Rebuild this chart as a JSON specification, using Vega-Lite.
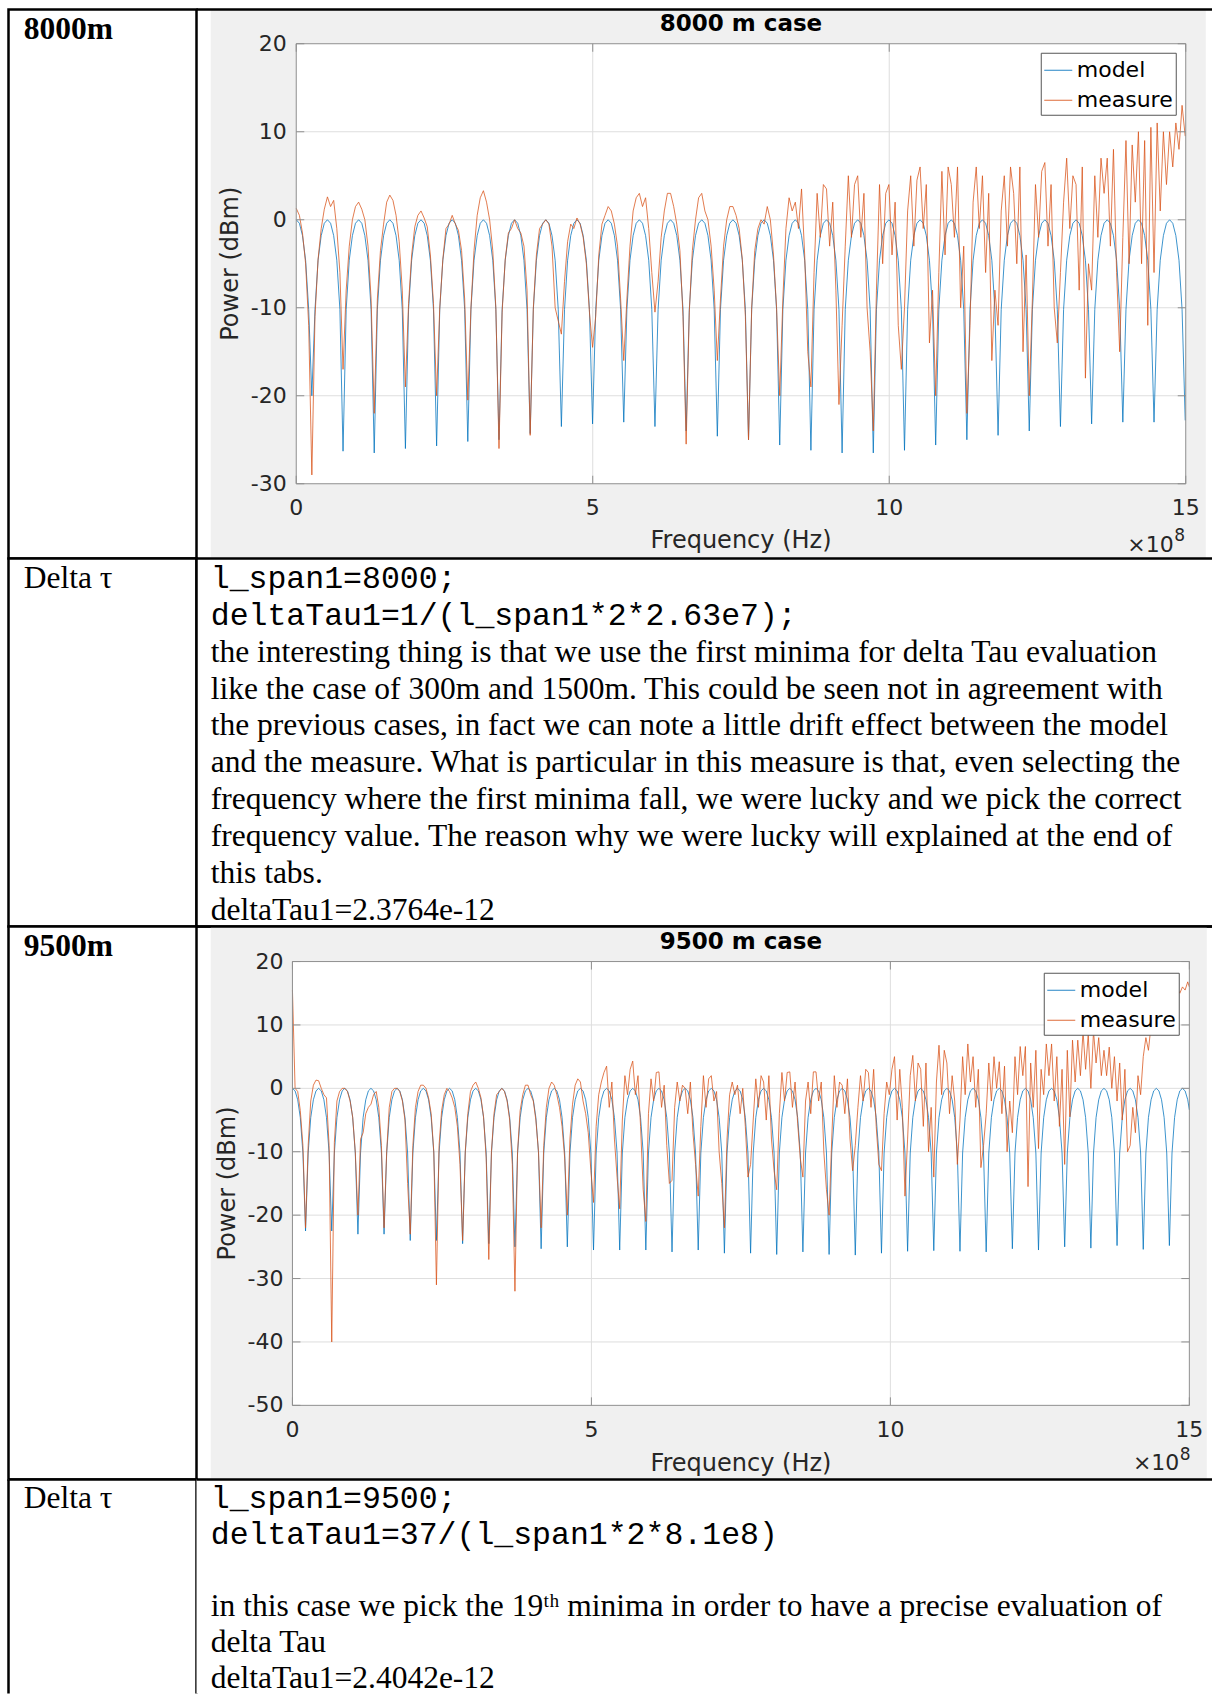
{
  "$schema": "https://vega.github.io/schema/vega-lite/v6.json",
  "background": "white",
  "padding": {"left": 6.5, "top": 7.5, "right": 0, "bottom": 0},
  "columns": 2,
  "spacing": 0,
  "bounds": "flush",
  "resolve": {"scale": {"color": "independent"}, "legend": {"color": "independent"}},
  "config": {
    "view": {"stroke": null},
    "axis": {"disable": true},
    "concat": {"spacing": 0}
  },
  "datasets": {
    "xticks": [{"v":0},{"v":5},{"v":10},{"v":15}],
    "yticks8000": [{"v":20},{"v":10},{"v":0},{"v":-10},{"v":-20},{"v":-30}],
    "yticks9500": [{"v":20},{"v":10},{"v":0},{"v":-10},{"v":-20},{"v":-30},{"v":-40},{"v":-50}],
    "run8000": [
      {"f":0,"model":0,"measure":1.3},{"f":0.053,"model":-0.4,"measure":0.5},{"f":0.105,"model":-1.8,"measure":-1.5},{"f":0.158,"model":-4.6,"measure":-5},{"f":0.21,"model":-10.2,"measure":-12},{"f":0.263,"model":-20,"measure":-29},{"f":0.316,"model":-10.2,"measure":-11},{"f":0.368,"model":-4.6,"measure":-4.5},{"f":0.421,"model":-1.8,"measure":-1},{"f":0.473,"model":-0.4,"measure":1.2},
      {"f":0.526,"model":0,"measure":2.6},{"f":0.579,"model":-0.4,"measure":1.5},{"f":0.631,"model":-1.8,"measure":2.2},{"f":0.684,"model":-4.6,"measure":-1},{"f":0.736,"model":-10.2,"measure":-6},{"f":0.789,"model":-26.3,"measure":-17},{"f":0.842,"model":-10.2,"measure":-8},{"f":0.894,"model":-4.6,"measure":-3},{"f":0.947,"model":-1.8,"measure":0},{"f":0.999,"model":-0.4,"measure":1.5},
      {"f":1.052,"model":0,"measure":2},{"f":1.105,"model":-0.4,"measure":1.2},{"f":1.157,"model":-1.8,"measure":0},{"f":1.21,"model":-4.6,"measure":-3},{"f":1.262,"model":-10.2,"measure":-9},{"f":1.315,"model":-26.5,"measure":-22},{"f":1.368,"model":-10.2,"measure":-9},{"f":1.42,"model":-4.6,"measure":-3.5},{"f":1.473,"model":-1.8,"measure":-0.5},{"f":1.525,"model":-0.4,"measure":2},
      {"f":1.578,"model":0,"measure":2.8},{"f":1.631,"model":-0.4,"measure":2.2},{"f":1.683,"model":-1.8,"measure":0.5},{"f":1.736,"model":-4.6,"measure":-2.5},{"f":1.788,"model":-10.2,"measure":-8},{"f":1.841,"model":-26,"measure":-19},{"f":1.894,"model":-10.2,"measure":-9.5},{"f":1.946,"model":-4.6,"measure":-4},{"f":1.999,"model":-1.8,"measure":-0.8},{"f":2.051,"model":-0.4,"measure":0.5},
      {"f":2.104,"model":0,"measure":1},{"f":2.157,"model":-0.4,"measure":0.2},{"f":2.209,"model":-1.8,"measure":-0.8},{"f":2.262,"model":-4.6,"measure":-4},{"f":2.314,"model":-10.2,"measure":-9.5},{"f":2.367,"model":-25.7,"measure":-20},{"f":2.42,"model":-10.2,"measure":-10},{"f":2.472,"model":-4.6,"measure":-4.5},{"f":2.525,"model":-1.8,"measure":-1},{"f":2.577,"model":-0.4,"measure":-0.5},
      {"f":2.63,"model":0,"measure":0.5},{"f":2.683,"model":-0.4,"measure":-0.5},{"f":2.735,"model":-1.8,"measure":-1.2},{"f":2.788,"model":-4.6,"measure":-3.5},{"f":2.84,"model":-10.2,"measure":-9},{"f":2.893,"model":-25.2,"measure":-20.5},{"f":2.946,"model":-10.2,"measure":-10},{"f":2.998,"model":-4.6,"measure":-3.5},{"f":3.051,"model":-1.8,"measure":0.5},{"f":3.103,"model":-0.4,"measure":2.5},
      {"f":3.156,"model":0,"measure":3.3},{"f":3.209,"model":-0.4,"measure":2},{"f":3.261,"model":-1.8,"measure":0},{"f":3.314,"model":-4.6,"measure":-3.5},{"f":3.366,"model":-10.2,"measure":-10},{"f":3.419,"model":-25,"measure":-26},{"f":3.472,"model":-10.2,"measure":-10.5},{"f":3.524,"model":-4.6,"measure":-4.5},{"f":3.577,"model":-1.8,"measure":-1.5},{"f":3.629,"model":-0.4,"measure":-1},
      {"f":3.682,"model":0,"measure":0},{"f":3.735,"model":-0.4,"measure":-1},{"f":3.787,"model":-1.8,"measure":-1.5},{"f":3.84,"model":-4.6,"measure":-3},{"f":3.892,"model":-10.2,"measure":-8},{"f":3.945,"model":-24.3,"measure":-24.5},{"f":3.998,"model":-10.2,"measure":-10},{"f":4.05,"model":-4.6,"measure":-4},{"f":4.103,"model":-1.8,"measure":-1},{"f":4.155,"model":-0.4,"measure":-0.5},
      {"f":4.208,"model":0,"measure":0},{"f":4.261,"model":-0.4,"measure":-0.5},{"f":4.313,"model":-1.8,"measure":-3},{"f":4.366,"model":-4.6,"measure":-10},{"f":4.418,"model":-10.2,"measure":-11.5},{"f":4.471,"model":-23.5,"measure":-13},{"f":4.524,"model":-10.2,"measure":-7},{"f":4.576,"model":-4.6,"measure":-2.5},{"f":4.629,"model":-1.8,"measure":-0.5},{"f":4.681,"model":-0.4,"measure":-1},
      {"f":4.734,"model":0,"measure":0.2},{"f":4.787,"model":-0.4,"measure":-0.5},{"f":4.839,"model":-1.8,"measure":-2},{"f":4.892,"model":-4.6,"measure":-5},{"f":4.944,"model":-10.2,"measure":-10.5},{"f":4.997,"model":-23.2,"measure":-14.5},{"f":5.05,"model":-10.2,"measure":-11},{"f":5.102,"model":-4.6,"measure":-4},{"f":5.155,"model":-1.8,"measure":-0.5},{"f":5.207,"model":-0.4,"measure":0.5},
      {"f":5.26,"model":0,"measure":1.5},{"f":5.313,"model":-0.4,"measure":1},{"f":5.365,"model":-1.8,"measure":-0.5},{"f":5.418,"model":-4.6,"measure":-3},{"f":5.47,"model":-10.2,"measure":-9},{"f":5.523,"model":-23,"measure":-16},{"f":5.576,"model":-10.2,"measure":-9},{"f":5.628,"model":-4.6,"measure":-3},{"f":5.681,"model":-1.8,"measure":1},{"f":5.733,"model":-0.4,"measure":2.5},
      {"f":5.786,"model":0,"measure":3},{"f":5.839,"model":-0.4,"measure":1.5},{"f":5.891,"model":-1.8,"measure":2.5},{"f":5.944,"model":-4.6,"measure":-1},{"f":5.996,"model":-10.2,"measure":-6},{"f":6.049,"model":-23.5,"measure":-10.5},{"f":6.102,"model":-10.2,"measure":-7},{"f":6.154,"model":-4.6,"measure":-2},{"f":6.207,"model":-1.8,"measure":1},{"f":6.259,"model":-0.4,"measure":3},
      {"f":6.312,"model":0,"measure":3},{"f":6.365,"model":-0.4,"measure":1.5},{"f":6.417,"model":-1.8,"measure":-0.5},{"f":6.47,"model":-4.6,"measure":-3.5},{"f":6.522,"model":-10.2,"measure":-11},{"f":6.575,"model":-24,"measure":-25.5},{"f":6.628,"model":-10.2,"measure":-10.5},{"f":6.68,"model":-4.6,"measure":-3.5},{"f":6.733,"model":-1.8,"measure":0},{"f":6.785,"model":-0.4,"measure":2.5},
      {"f":6.838,"model":0,"measure":3},{"f":6.891,"model":-0.4,"measure":1},{"f":6.943,"model":-1.8,"measure":0},{"f":6.996,"model":-4.6,"measure":-3},{"f":7.048,"model":-10.2,"measure":-8},{"f":7.101,"model":-24.6,"measure":-16},{"f":7.154,"model":-10.2,"measure":-9},{"f":7.206,"model":-4.6,"measure":-3},{"f":7.259,"model":-1.8,"measure":0},{"f":7.311,"model":-0.4,"measure":1.5},
      {"f":7.364,"model":0,"measure":1.5},{"f":7.417,"model":-0.4,"measure":0.5},{"f":7.469,"model":-1.8,"measure":-1},{"f":7.522,"model":-4.6,"measure":-4.5},{"f":7.574,"model":-10.2,"measure":-11},{"f":7.627,"model":-25,"measure":-25},{"f":7.68,"model":-10.2,"measure":-10},{"f":7.732,"model":-4.6,"measure":-3.5},{"f":7.785,"model":-1.8,"measure":-1},{"f":7.837,"model":-0.4,"measure":0},
      {"f":7.89,"model":0,"measure":-0.5},{"f":7.943,"model":-0.4,"measure":1.5},{"f":7.995,"model":-1.8,"measure":0},{"f":8.048,"model":-4.6,"measure":-4},{"f":8.1,"model":-10.2,"measure":-10},{"f":8.153,"model":-25.6,"measure":-20},{"f":8.206,"model":-10.2,"measure":-9},{"f":8.258,"model":-4.6,"measure":-1},{"f":8.311,"model":-1.8,"measure":2.5},{"f":8.363,"model":-0.4,"measure":1},
      {"f":8.416,"model":0,"measure":2},{"f":8.469,"model":-0.4,"measure":-1},{"f":8.521,"model":-1.8,"measure":3.5},{"f":8.574,"model":-4.6,"measure":-4},{"f":8.626,"model":-10.2,"measure":-15},{"f":8.679,"model":-26.2,"measure":-19},{"f":8.732,"model":-10.2,"measure":-6},{"f":8.784,"model":-4.6,"measure":3},{"f":8.837,"model":-1.8,"measure":-2},{"f":8.889,"model":-0.4,"measure":4},
      {"f":8.942,"model":0,"measure":3.5},{"f":8.995,"model":-0.4,"measure":-3},{"f":9.047,"model":-1.8,"measure":2},{"f":9.1,"model":-4.6,"measure":-8},{"f":9.152,"model":-10.2,"measure":-21},{"f":9.205,"model":-26.5,"measure":-12},{"f":9.258,"model":-10.2,"measure":-3},{"f":9.31,"model":-4.6,"measure":5},{"f":9.363,"model":-1.8,"measure":-2},{"f":9.415,"model":-0.4,"measure":4},
      {"f":9.468,"model":0,"measure":5},{"f":9.521,"model":-0.4,"measure":-2},{"f":9.573,"model":-1.8,"measure":3},{"f":9.626,"model":-4.6,"measure":-10},{"f":9.678,"model":-10.2,"measure":-15},{"f":9.731,"model":-26.5,"measure":-24},{"f":9.784,"model":-10.2,"measure":-8},{"f":9.836,"model":-4.6,"measure":4},{"f":9.889,"model":-1.8,"measure":-5},{"f":9.941,"model":-0.4,"measure":3},
      {"f":9.994,"model":0,"measure":4},{"f":10.047,"model":-0.4,"measure":-4},{"f":10.099,"model":-1.8,"measure":2},{"f":10.152,"model":-4.6,"measure":-12},{"f":10.204,"model":-10.2,"measure":-17},{"f":10.257,"model":-26.2,"measure":-10},{"f":10.31,"model":-10.2,"measure":1},{"f":10.362,"model":-4.6,"measure":5},{"f":10.415,"model":-1.8,"measure":-3},{"f":10.467,"model":-0.4,"measure":4.5},
      {"f":10.52,"model":0,"measure":6},{"f":10.573,"model":-0.4,"measure":-1},{"f":10.625,"model":-1.8,"measure":4},{"f":10.678,"model":-4.6,"measure":-14},{"f":10.73,"model":-10.2,"measure":-8},{"f":10.783,"model":-25.6,"measure":-20},{"f":10.836,"model":-10.2,"measure":-6},{"f":10.888,"model":-4.6,"measure":5.5},{"f":10.941,"model":-1.8,"measure":-4},{"f":10.993,"model":-0.4,"measure":6},
      {"f":11.046,"model":0,"measure":4},{"f":11.099,"model":-0.4,"measure":-2},{"f":11.151,"model":-1.8,"measure":6},{"f":11.204,"model":-4.6,"measure":-10},{"f":11.256,"model":-10.2,"measure":-3},{"f":11.309,"model":-25,"measure":-22},{"f":11.362,"model":-10.2,"measure":-12},{"f":11.414,"model":-4.6,"measure":2},{"f":11.467,"model":-1.8,"measure":6},{"f":11.519,"model":-0.4,"measure":-1},
      {"f":11.572,"model":0,"measure":5},{"f":11.625,"model":-0.4,"measure":-6},{"f":11.677,"model":-1.8,"measure":3},{"f":11.73,"model":-4.6,"measure":-16},{"f":11.782,"model":-10.2,"measure":-8},{"f":11.835,"model":-24.5,"measure":-12},{"f":11.888,"model":-10.2,"measure":1},{"f":11.94,"model":-4.6,"measure":5},{"f":11.993,"model":-1.8,"measure":-3},{"f":12.045,"model":-0.4,"measure":6},
      {"f":12.098,"model":0,"measure":3},{"f":12.151,"model":-0.4,"measure":-5},{"f":12.203,"model":-1.8,"measure":6},{"f":12.256,"model":-4.6,"measure":-15},{"f":12.308,"model":-10.2,"measure":-4},{"f":12.361,"model":-24,"measure":-20},{"f":12.414,"model":-10.2,"measure":-9},{"f":12.466,"model":-4.6,"measure":4},{"f":12.519,"model":-1.8,"measure":-2},{"f":12.571,"model":-0.4,"measure":5.5},
      {"f":12.624,"model":0,"measure":6.5},{"f":12.677,"model":-0.4,"measure":-3},{"f":12.729,"model":-1.8,"measure":4},{"f":12.782,"model":-4.6,"measure":-10},{"f":12.834,"model":-10.2,"measure":-14},{"f":12.887,"model":-23.5,"measure":-6},{"f":12.94,"model":-10.2,"measure":2},{"f":12.992,"model":-4.6,"measure":7},{"f":13.045,"model":-1.8,"measure":-1},{"f":13.097,"model":-0.4,"measure":5},
      {"f":13.15,"model":0,"measure":4},{"f":13.203,"model":-0.4,"measure":-8},{"f":13.255,"model":-1.8,"measure":6},{"f":13.308,"model":-4.6,"measure":-18},{"f":13.36,"model":-10.2,"measure":-5},{"f":13.413,"model":-23.2,"measure":-8},{"f":13.466,"model":-10.2,"measure":5},{"f":13.518,"model":-4.6,"measure":-2},{"f":13.571,"model":-1.8,"measure":7},{"f":13.623,"model":-0.4,"measure":3},
      {"f":13.676,"model":0,"measure":7},{"f":13.729,"model":-0.4,"measure":-3},{"f":13.781,"model":-1.8,"measure":8},{"f":13.834,"model":-4.6,"measure":-6},{"f":13.886,"model":-10.2,"measure":-15},{"f":13.939,"model":-23,"measure":-2},{"f":13.992,"model":-10.2,"measure":9},{"f":14.044,"model":-4.6,"measure":-5},{"f":14.097,"model":-1.8,"measure":8.5},{"f":14.149,"model":-0.4,"measure":2},
      {"f":14.202,"model":0,"measure":10},{"f":14.255,"model":-0.4,"measure":-5},{"f":14.307,"model":-1.8,"measure":9},{"f":14.36,"model":-4.6,"measure":-12},{"f":14.412,"model":-10.2,"measure":10.5},{"f":14.465,"model":-23,"measure":-6},{"f":14.518,"model":-10.2,"measure":11},{"f":14.57,"model":-4.6,"measure":1},{"f":14.623,"model":-1.8,"measure":10},{"f":14.675,"model":-0.4,"measure":4},
      {"f":14.728,"model":0,"measure":10},{"f":14.781,"model":-0.4,"measure":6},{"f":14.833,"model":-1.8,"measure":11},{"f":14.886,"model":-4.6,"measure":8},{"f":14.938,"model":-10.2,"measure":13},{"f":14.991,"model":-22.8,"measure":9.5}
    ],
    "run9500": [
      {"f":0,"model":0,"measure":15.5},{"f":0.044,"model":-0.4,"measure":0},{"f":0.088,"model":-1.8,"measure":-0.5},{"f":0.131,"model":-4.6,"measure":-3.5},{"f":0.175,"model":-10.2,"measure":-9},{"f":0.219,"model":-22.5,"measure":-22},{"f":0.263,"model":-10.2,"measure":-9},{"f":0.306,"model":-4.6,"measure":-2},{"f":0.35,"model":-1.8,"measure":0.5},{"f":0.394,"model":-0.4,"measure":1.3},
      {"f":0.438,"model":0,"measure":1.2},{"f":0.482,"model":-0.4,"measure":0},{"f":0.526,"model":-1.8,"measure":-1},{"f":0.569,"model":-4.6,"measure":-1.5},{"f":0.613,"model":-10.2,"measure":-9},{"f":0.657,"model":-22.5,"measure":-40},{"f":0.701,"model":-10.2,"measure":-8.5},{"f":0.744,"model":-4.6,"measure":-2},{"f":0.788,"model":-1.8,"measure":-0.5},{"f":0.832,"model":-0.4,"measure":0},
      {"f":0.876,"model":0,"measure":0},{"f":0.92,"model":-0.4,"measure":-0.5},{"f":0.964,"model":-1.8,"measure":-2},{"f":1.007,"model":-4.6,"measure":-4.5},{"f":1.051,"model":-10.2,"measure":-10},{"f":1.095,"model":-23,"measure":-20},{"f":1.139,"model":-10.2,"measure":-8},{"f":1.182,"model":-4.6,"measure":-7},{"f":1.226,"model":-1.8,"measure":-4},{"f":1.27,"model":-0.4,"measure":-3},
      {"f":1.313,"model":0,"measure":-2.5},{"f":1.357,"model":-0.4,"measure":-1},{"f":1.401,"model":-1.8,"measure":-0.5},{"f":1.444,"model":-4.6,"measure":-3},{"f":1.488,"model":-10.2,"measure":-9},{"f":1.532,"model":-23,"measure":-22},{"f":1.576,"model":-10.2,"measure":-10},{"f":1.619,"model":-4.6,"measure":-3},{"f":1.663,"model":-1.8,"measure":-0.5},{"f":1.707,"model":-0.4,"measure":0},
      {"f":1.751,"model":0,"measure":0},{"f":1.795,"model":-0.4,"measure":-0.5},{"f":1.839,"model":-1.8,"measure":-2},{"f":1.882,"model":-4.6,"measure":-5},{"f":1.926,"model":-10.2,"measure":-15},{"f":1.97,"model":-24,"measure":-23},{"f":2.014,"model":-10.2,"measure":-9},{"f":2.057,"model":-4.6,"measure":-3},{"f":2.101,"model":-1.8,"measure":-0.5},{"f":2.145,"model":-0.4,"measure":0.5},
      {"f":2.189,"model":0,"measure":0.5},{"f":2.233,"model":-0.4,"measure":0},{"f":2.277,"model":-1.8,"measure":-1.5},{"f":2.32,"model":-4.6,"measure":-4},{"f":2.364,"model":-10.2,"measure":-10},{"f":2.408,"model":-24,"measure":-31},{"f":2.452,"model":-10.2,"measure":-9},{"f":2.495,"model":-4.6,"measure":-3.5},{"f":2.539,"model":-1.8,"measure":-1},{"f":2.583,"model":-0.4,"measure":0},
      {"f":2.627,"model":0,"measure":-0.5},{"f":2.671,"model":-0.4,"measure":-1.5},{"f":2.715,"model":-1.8,"measure":-3},{"f":2.758,"model":-4.6,"measure":-6},{"f":2.802,"model":-10.2,"measure":-12},{"f":2.846,"model":-24.5,"measure":-24},{"f":2.89,"model":-10.2,"measure":-10},{"f":2.933,"model":-4.6,"measure":-4},{"f":2.977,"model":-1.8,"measure":-0.5},{"f":3.021,"model":-0.4,"measure":0.5},
      {"f":3.065,"model":0,"measure":1},{"f":3.109,"model":-0.4,"measure":0},{"f":3.153,"model":-1.8,"measure":-1.5},{"f":3.196,"model":-4.6,"measure":-4.5},{"f":3.24,"model":-10.2,"measure":-11},{"f":3.284,"model":-24.5,"measure":-27},{"f":3.328,"model":-10.2,"measure":-10},{"f":3.371,"model":-4.6,"measure":-4},{"f":3.415,"model":-1.8,"measure":-1},{"f":3.459,"model":-0.4,"measure":-0.5},
      {"f":3.502,"model":0,"measure":0},{"f":3.546,"model":-0.4,"measure":-0.5},{"f":3.59,"model":-1.8,"measure":-2},{"f":3.633,"model":-4.6,"measure":-5},{"f":3.677,"model":-10.2,"measure":-12},{"f":3.721,"model":-25,"measure":-32},{"f":3.765,"model":-10.2,"measure":-10},{"f":3.808,"model":-4.6,"measure":-3.5},{"f":3.852,"model":-1.8,"measure":-1},{"f":3.896,"model":-0.4,"measure":0.5},
      {"f":3.94,"model":0,"measure":0.5},{"f":3.984,"model":-0.4,"measure":-1},{"f":4.028,"model":-1.8,"measure":-2},{"f":4.071,"model":-4.6,"measure":-5},{"f":4.115,"model":-10.2,"measure":-10},{"f":4.159,"model":-25.3,"measure":-22},{"f":4.203,"model":-10.2,"measure":-9},{"f":4.246,"model":-4.6,"measure":-3},{"f":4.29,"model":-1.8,"measure":0},{"f":4.334,"model":-0.4,"measure":1},
      {"f":4.378,"model":0,"measure":0.5},{"f":4.422,"model":-0.4,"measure":-1},{"f":4.466,"model":-1.8,"measure":-3},{"f":4.509,"model":-4.6,"measure":-6},{"f":4.553,"model":-10.2,"measure":-11},{"f":4.597,"model":-25,"measure":-20},{"f":4.641,"model":-10.2,"measure":-8},{"f":4.684,"model":-4.6,"measure":-2.5},{"f":4.728,"model":-1.8,"measure":0.5},{"f":4.772,"model":-0.4,"measure":1.5},
      {"f":4.816,"model":0,"measure":1},{"f":4.86,"model":-0.4,"measure":-2},{"f":4.904,"model":-1.8,"measure":-4},{"f":4.947,"model":-4.6,"measure":-7},{"f":4.991,"model":-10.2,"measure":-13},{"f":5.035,"model":-25.5,"measure":-18},{"f":5.079,"model":-10.2,"measure":-6},{"f":5.122,"model":-4.6,"measure":-1},{"f":5.166,"model":-1.8,"measure":1},{"f":5.21,"model":-0.4,"measure":2.5},
      {"f":5.254,"model":0,"measure":3.5},{"f":5.298,"model":-0.4,"measure":-3},{"f":5.342,"model":-1.8,"measure":1},{"f":5.385,"model":-4.6,"measure":-8},{"f":5.429,"model":-10.2,"measure":-14},{"f":5.473,"model":-25.5,"measure":-19},{"f":5.517,"model":-10.2,"measure":-5},{"f":5.56,"model":-4.6,"measure":2},{"f":5.604,"model":-1.8,"measure":-1},{"f":5.648,"model":-0.4,"measure":3},
      {"f":5.691,"model":0,"measure":4.3},{"f":5.735,"model":-0.4,"measure":-1},{"f":5.779,"model":-1.8,"measure":2},{"f":5.822,"model":-4.6,"measure":-6},{"f":5.866,"model":-10.2,"measure":-16},{"f":5.91,"model":-25.5,"measure":-21},{"f":5.954,"model":-10.2,"measure":-4},{"f":5.997,"model":-4.6,"measure":1.5},{"f":6.041,"model":-1.8,"measure":-2},{"f":6.085,"model":-0.4,"measure":2.5},
      {"f":6.129,"model":0,"measure":2.6},{"f":6.173,"model":-0.4,"measure":-3},{"f":6.217,"model":-1.8,"measure":0.5},{"f":6.26,"model":-4.6,"measure":-9},{"f":6.304,"model":-10.2,"measure":-15},{"f":6.348,"model":-25.8,"measure":-14.5},{"f":6.392,"model":-10.2,"measure":-3},{"f":6.435,"model":-4.6,"measure":1},{"f":6.479,"model":-1.8,"measure":-2},{"f":6.523,"model":-0.4,"measure":0.5},
      {"f":6.567,"model":0,"measure":0},{"f":6.611,"model":-0.4,"measure":-4},{"f":6.655,"model":-1.8,"measure":1},{"f":6.698,"model":-4.6,"measure":-7},{"f":6.742,"model":-10.2,"measure":-12},{"f":6.786,"model":-25.5,"measure":-17},{"f":6.83,"model":-10.2,"measure":-6},{"f":6.873,"model":-4.6,"measure":2},{"f":6.917,"model":-1.8,"measure":-3},{"f":6.961,"model":-0.4,"measure":1.5},
      {"f":7.005,"model":0,"measure":2},{"f":7.049,"model":-0.4,"measure":-2},{"f":7.093,"model":-1.8,"measure":-0.5},{"f":7.136,"model":-4.6,"measure":-10},{"f":7.18,"model":-10.2,"measure":-15},{"f":7.224,"model":-26,"measure":-22},{"f":7.268,"model":-10.2,"measure":-8},{"f":7.311,"model":-4.6,"measure":-1},{"f":7.355,"model":-1.8,"measure":1},{"f":7.399,"model":-0.4,"measure":-1},
      {"f":7.443,"model":0,"measure":0.5},{"f":7.487,"model":-0.4,"measure":-4},{"f":7.531,"model":-1.8,"measure":0},{"f":7.574,"model":-4.6,"measure":-6},{"f":7.618,"model":-10.2,"measure":-14},{"f":7.662,"model":-26,"measure":-12},{"f":7.706,"model":-10.2,"measure":-5},{"f":7.749,"model":-4.6,"measure":1.5},{"f":7.793,"model":-1.8,"measure":-3},{"f":7.837,"model":-0.4,"measure":2},
      {"f":7.88,"model":0,"measure":1},{"f":7.924,"model":-0.4,"measure":-5},{"f":7.968,"model":-1.8,"measure":2},{"f":8.011,"model":-4.6,"measure":-8},{"f":8.055,"model":-10.2,"measure":-13},{"f":8.099,"model":-26.2,"measure":-16},{"f":8.143,"model":-10.2,"measure":-4},{"f":8.186,"model":-4.6,"measure":2.5},{"f":8.23,"model":-1.8,"measure":-2},{"f":8.274,"model":-0.4,"measure":2.5},
      {"f":8.318,"model":0,"measure":2.6},{"f":8.362,"model":-0.4,"measure":-3},{"f":8.406,"model":-1.8,"measure":1},{"f":8.449,"model":-4.6,"measure":-5.5},{"f":8.493,"model":-10.2,"measure":-11},{"f":8.537,"model":-25.8,"measure":-14},{"f":8.581,"model":-10.2,"measure":-2},{"f":8.624,"model":-4.6,"measure":1},{"f":8.668,"model":-1.8,"measure":-4},{"f":8.712,"model":-0.4,"measure":2.6},
      {"f":8.756,"model":0,"measure":2.6},{"f":8.8,"model":-0.4,"measure":-2},{"f":8.844,"model":-1.8,"measure":1},{"f":8.887,"model":-4.6,"measure":-10},{"f":8.931,"model":-10.2,"measure":-16},{"f":8.975,"model":-26.2,"measure":-20},{"f":9.019,"model":-10.2,"measure":-8},{"f":9.062,"model":-4.6,"measure":2},{"f":9.106,"model":-1.8,"measure":-3},{"f":9.15,"model":-0.4,"measure":1},
      {"f":9.194,"model":0,"measure":0.5},{"f":9.238,"model":-0.4,"measure":-4},{"f":9.282,"model":-1.8,"measure":1.5},{"f":9.325,"model":-4.6,"measure":-8},{"f":9.369,"model":-10.2,"measure":-13},{"f":9.413,"model":-26.3,"measure":-9},{"f":9.457,"model":-10.2,"measure":-3},{"f":9.5,"model":-4.6,"measure":2},{"f":9.544,"model":-1.8,"measure":-2},{"f":9.588,"model":-0.4,"measure":3},
      {"f":9.632,"model":0,"measure":2.5},{"f":9.676,"model":-0.4,"measure":-3},{"f":9.72,"model":-1.8,"measure":3},{"f":9.763,"model":-4.6,"measure":-6},{"f":9.807,"model":-10.2,"measure":-12},{"f":9.851,"model":-26,"measure":-13},{"f":9.895,"model":-10.2,"measure":-4},{"f":9.938,"model":-4.6,"measure":1},{"f":9.982,"model":-1.8,"measure":-1},{"f":10.026,"model":-0.4,"measure":3},
      {"f":10.069,"model":0,"measure":5},{"f":10.113,"model":-0.4,"measure":-5},{"f":10.157,"model":-1.8,"measure":3},{"f":10.2,"model":-4.6,"measure":-3},{"f":10.244,"model":-10.2,"measure":-17},{"f":10.288,"model":-25.7,"measure":-8},{"f":10.332,"model":-10.2,"measure":2},{"f":10.375,"model":-4.6,"measure":5.2},{"f":10.419,"model":-1.8,"measure":-2},{"f":10.463,"model":-0.4,"measure":4},
      {"f":10.507,"model":0,"measure":3},{"f":10.551,"model":-0.4,"measure":-6},{"f":10.595,"model":-1.8,"measure":4},{"f":10.638,"model":-4.6,"measure":-10},{"f":10.682,"model":-10.2,"measure":-3},{"f":10.726,"model":-25.6,"measure":-14},{"f":10.77,"model":-10.2,"measure":1},{"f":10.813,"model":-4.6,"measure":6.8},{"f":10.857,"model":-1.8,"measure":-1},{"f":10.901,"model":-0.4,"measure":6},
      {"f":10.945,"model":0,"measure":4},{"f":10.989,"model":-0.4,"measure":-4},{"f":11.033,"model":-1.8,"measure":2},{"f":11.076,"model":-4.6,"measure":-2},{"f":11.12,"model":-10.2,"measure":-12},{"f":11.164,"model":-25.7,"measure":-5},{"f":11.208,"model":-10.2,"measure":5},{"f":11.251,"model":-4.6,"measure":-1},{"f":11.295,"model":-1.8,"measure":7},{"f":11.339,"model":-0.4,"measure":1},
      {"f":11.383,"model":0,"measure":5},{"f":11.427,"model":-0.4,"measure":-3},{"f":11.471,"model":-1.8,"measure":3},{"f":11.514,"model":-4.6,"measure":-12.5},{"f":11.558,"model":-10.2,"measure":-9},{"f":11.602,"model":-25.8,"measure":-4},{"f":11.646,"model":-10.2,"measure":4},{"f":11.689,"model":-4.6,"measure":-2},{"f":11.733,"model":-1.8,"measure":5},{"f":11.777,"model":-0.4,"measure":0},
      {"f":11.821,"model":0,"measure":4.2},{"f":11.865,"model":-0.4,"measure":-4},{"f":11.909,"model":-1.8,"measure":3.5},{"f":11.952,"model":-4.6,"measure":-10},{"f":11.996,"model":-10.2,"measure":-2},{"f":12.04,"model":-25.3,"measure":-7},{"f":12.084,"model":-10.2,"measure":5},{"f":12.127,"model":-4.6,"measure":-1},{"f":12.171,"model":-1.8,"measure":6.6},{"f":12.215,"model":-0.4,"measure":2},
      {"f":12.258,"model":0,"measure":6.6},{"f":12.302,"model":-0.4,"measure":-15.5},{"f":12.346,"model":-1.8,"measure":4},{"f":12.389,"model":-4.6,"measure":-3},{"f":12.433,"model":-10.2,"measure":6},{"f":12.477,"model":-25.5,"measure":-9.5},{"f":12.521,"model":-10.2,"measure":3},{"f":12.564,"model":-4.6,"measure":-1},{"f":12.608,"model":-1.8,"measure":7},{"f":12.652,"model":-0.4,"measure":2},
      {"f":12.696,"model":0,"measure":7},{"f":12.74,"model":-0.4,"measure":-2},{"f":12.784,"model":-1.8,"measure":5},{"f":12.827,"model":-4.6,"measure":-6},{"f":12.871,"model":-10.2,"measure":3},{"f":12.915,"model":-25,"measure":-12},{"f":12.959,"model":-10.2,"measure":6},{"f":13.002,"model":-4.6,"measure":-4.5},{"f":13.046,"model":-1.8,"measure":7.6},{"f":13.09,"model":-0.4,"measure":1},
      {"f":13.134,"model":0,"measure":7.6},{"f":13.178,"model":-0.4,"measure":2},{"f":13.222,"model":-1.8,"measure":9},{"f":13.265,"model":-4.6,"measure":3},{"f":13.309,"model":-10.2,"measure":8.5},{"f":13.353,"model":-25.2,"measure":0},{"f":13.397,"model":-10.2,"measure":9},{"f":13.44,"model":-4.6,"measure":4},{"f":13.484,"model":-1.8,"measure":8},{"f":13.528,"model":-0.4,"measure":2},
      {"f":13.572,"model":0,"measure":6},{"f":13.616,"model":-0.4,"measure":2},{"f":13.66,"model":-1.8,"measure":6.5},{"f":13.703,"model":-4.6,"measure":0},{"f":13.747,"model":-10.2,"measure":5},{"f":13.791,"model":-24.8,"measure":-2},{"f":13.835,"model":-10.2,"measure":4},{"f":13.878,"model":-4.6,"measure":-5},{"f":13.922,"model":-1.8,"measure":3},{"f":13.966,"model":-0.4,"measure":-10},
      {"f":14.01,"model":0,"measure":-9},{"f":14.054,"model":-0.4,"measure":-3},{"f":14.098,"model":-1.8,"measure":-7},{"f":14.141,"model":-4.6,"measure":2},{"f":14.185,"model":-10.2,"measure":-1},{"f":14.229,"model":-25.4,"measure":5},{"f":14.273,"model":-10.2,"measure":8},{"f":14.316,"model":-4.6,"measure":6},{"f":14.36,"model":-1.8,"measure":10},{"f":14.404,"model":-0.4,"measure":12},
      {"f":14.447,"model":0,"measure":13},{"f":14.491,"model":-0.4,"measure":11},{"f":14.535,"model":-1.8,"measure":14},{"f":14.578,"model":-4.6,"measure":12},{"f":14.622,"model":-10.2,"measure":15},{"f":14.666,"model":-24.8,"measure":13},{"f":14.71,"model":-10.2,"measure":15.5},{"f":14.753,"model":-4.6,"measure":14},{"f":14.797,"model":-1.8,"measure":16},{"f":14.841,"model":-0.4,"measure":15},
      {"f":14.885,"model":0,"measure":16},{"f":14.929,"model":-0.4,"measure":15.5},{"f":14.973,"model":-1.8,"measure":16.8},{"f":15,"model":-3.4,"measure":16}
    ]
  },
  "concat": [
    {
      "width": 188, "height": 549,
      "view": {"stroke": "#000000", "strokeWidth": 2.5, "fill": "#ffffff"},
      "data": {"values": [{"line": 0, "text": "8000m"}]},
      "mark": {"type": "text", "font": "Liberation Serif", "fontSize": 31.5, "fontWeight": "bold", "align": "left", "baseline": "middle", "color": "#000000"},
      "encoding": {
        "x": {"value": 15.25},
        "y": {"field": "line", "type": "quantitative", "axis": null, "scale": {"domain": [-0.5563, 14.342], "reverse": true, "nice": false, "zero": false}},
        "text": {"field": "text"}
      }
    },
    {
      "width": 1015.5, "height": 549,
      "view": {"stroke": null},
      "layer": [
        {"data": {"values": [{}]}, "mark": {"type": "rect", "color": "#f0f0f0"},
         "encoding": {
           "x": {"datum": -1.4418, "type": "quantitative", "axis": null, "scale": {"domain": [-1.6821, 15.4427], "nice": false, "zero": false}},
           "x2": {"datum": 15.3374},
           "y": {"datum": -38.494, "type": "quantitative", "axis": null, "scale": {"domain": [-38.494, 23.892], "nice": false, "zero": false}},
           "y2": {"datum": 23.892}}},
        {"data": {"values": [{}]}, "mark": {"type": "rect", "color": "#ffffff"},
         "encoding": {"x": {"datum": 0, "type": "quantitative"}, "x2": {"datum": 15}, "y": {"datum": -30, "type": "quantitative"}, "y2": {"datum": 20}}},
        {"data": {"name": "xticks"}, "transform": [{"filter": "datum.v > 0 && datum.v < 15"}],
         "mark": {"type": "rule", "color": "#dedede", "strokeWidth": 1},
         "encoding": {"x": {"field": "v", "type": "quantitative"}, "y": {"datum": -30, "type": "quantitative"}, "y2": {"datum": 20}}},
        {"data": {"name": "yticks8000"}, "transform": [{"filter": "datum.v > -30 && datum.v < 20"}],
         "mark": {"type": "rule", "color": "#dedede", "strokeWidth": 1},
         "encoding": {"y": {"field": "v", "type": "quantitative"}, "x": {"datum": 0, "type": "quantitative"}, "x2": {"datum": 15}}},
        {"data": {"name": "run8000"}, "mark": {"type": "line", "strokeWidth": 0.9, "strokeOpacity": 0.85},
         "encoding": {
           "x": {"field": "f", "type": "quantitative"},
           "y": {"field": "model", "type": "quantitative"},
           "color": {"datum": "model", "type": "nominal",
             "scale": {"domain": ["model", "measure"], "range": ["#0072BD", "#D95319"]},
             "legend": {"orient": "none", "legendX": 844.25, "legendY": 43.25, "title": null, "direction": "vertical",
               "symbolType": "stroke", "symbolSize": 784, "symbolStrokeWidth": 1, "symbolOpacity": 0.85,
               "labelFont": "DejaVu Sans", "labelFontSize": 22, "labelColor": "#000000", "labelOffset": 4,
               "padding": 3, "rowPadding": 4, "strokeColor": "#555555", "fillColor": "#ffffff", "cornerRadius": 0}}}},
        {"data": {"name": "run8000"}, "mark": {"type": "line", "strokeWidth": 0.9, "strokeOpacity": 0.85},
         "encoding": {
           "x": {"field": "f", "type": "quantitative"},
           "y": {"field": "measure", "type": "quantitative"},
           "color": {"datum": "measure", "type": "nominal"}}},
        {"data": {"values": [{}]}, "mark": {"type": "rect", "fillOpacity": 0, "stroke": "#8f8f8f", "strokeWidth": 1},
         "encoding": {"x": {"datum": 0, "type": "quantitative"}, "x2": {"datum": 15}, "y": {"datum": -30, "type": "quantitative"}, "y2": {"datum": 20}}},
        {"data": {"name": "xticks"}, "mark": {"type": "rule", "color": "#8f8f8f", "strokeWidth": 1},
         "encoding": {"x": {"field": "v", "type": "quantitative"}, "y": {"datum": -30, "type": "quantitative"}, "y2": {"datum": -29.09}}},
        {"data": {"name": "xticks"}, "mark": {"type": "rule", "color": "#8f8f8f", "strokeWidth": 1},
         "encoding": {"x": {"field": "v", "type": "quantitative"}, "y": {"datum": 20, "type": "quantitative"}, "y2": {"datum": 19.09}}},
        {"data": {"name": "yticks8000"}, "mark": {"type": "rule", "color": "#8f8f8f", "strokeWidth": 1},
         "encoding": {"y": {"field": "v", "type": "quantitative"}, "x": {"datum": 0, "type": "quantitative"}, "x2": {"datum": 0.135}}},
        {"data": {"name": "yticks8000"}, "mark": {"type": "rule", "color": "#8f8f8f", "strokeWidth": 1},
         "encoding": {"y": {"field": "v", "type": "quantitative"}, "x": {"datum": 15, "type": "quantitative"}, "x2": {"datum": 14.865}}},
        {"data": {"name": "xticks"}, "mark": {"type": "text", "font": "DejaVu Sans", "fontSize": 22, "color": "#262626", "baseline": "middle", "dy": 24},
         "encoding": {"x": {"field": "v", "type": "quantitative"}, "y": {"datum": -30, "type": "quantitative"}, "text": {"field": "v", "type": "nominal"}}},
        {"data": {"name": "yticks8000"}, "mark": {"type": "text", "font": "DejaVu Sans", "fontSize": 22, "color": "#262626", "align": "right", "baseline": "middle", "dx": -9.5},
         "encoding": {"x": {"datum": 0, "type": "quantitative"}, "y": {"field": "v", "type": "quantitative"}, "text": {"field": "v", "type": "nominal"}}},
        {"data": {"values": [{"t": "8000 m case"}]}, "mark": {"type": "text", "font": "DejaVu Sans", "fontSize": 23, "fontWeight": "bold", "color": "#000000", "baseline": "middle", "dy": -20},
         "encoding": {"x": {"datum": 7.5, "type": "quantitative"}, "y": {"datum": 20, "type": "quantitative"}, "text": {"field": "t"}}},
        {"data": {"values": [{"t": "Frequency (Hz)"}]}, "mark": {"type": "text", "font": "DejaVu Sans", "fontSize": 24, "color": "#262626", "baseline": "middle", "dy": 57.5},
         "encoding": {"x": {"datum": 7.5, "type": "quantitative"}, "y": {"datum": -30, "type": "quantitative"}, "text": {"field": "t"}}},
        {"data": {"values": [{"t": "Power (dBm)"}]}, "mark": {"type": "text", "font": "DejaVu Sans", "fontSize": 24, "color": "#262626", "baseline": "middle", "angle": 270},
         "encoding": {"x": {"datum": -1.1045, "type": "quantitative"}, "y": {"datum": -5, "type": "quantitative"}, "text": {"field": "t"}}},
        {"data": {"values": [{"t": "×10"}]}, "mark": {"type": "text", "font": "DejaVu Sans", "fontSize": 22, "color": "#262626", "align": "right", "baseline": "middle", "dx": -12, "dy": 61},
         "encoding": {"x": {"datum": 15, "type": "quantitative"}, "y": {"datum": -30, "type": "quantitative"}, "text": {"field": "t"}}},
        {"data": {"values": [{"t": "8"}]}, "mark": {"type": "text", "font": "DejaVu Sans", "fontSize": 17, "color": "#262626", "align": "left", "baseline": "middle", "dx": -11.5, "dy": 52},
         "encoding": {"x": {"datum": 15, "type": "quantitative"}, "y": {"datum": -30, "type": "quantitative"}, "text": {"field": "t"}}},
        {"data": {"values": [{}]}, "mark": {"type": "rule", "color": "#000000", "strokeWidth": 2.5},
         "encoding": {"x": {"datum": -1.6821, "type": "quantitative"}, "x2": {"datum": 15.4427}, "y": {"datum": 23.892, "type": "quantitative"}}}
      ]
    },
    {
      "width": 188, "height": 368,
      "view": {"stroke": "#000000", "strokeWidth": 2.5, "fill": "#ffffff"},
      "data": {"values": [{"line": 0, "text": "Delta τ"}]},
      "mark": {"type": "text", "font": "Liberation Serif", "fontSize": 31.5, "align": "left", "baseline": "middle", "color": "#000000"},
      "encoding": {
        "x": {"value": 15.25},
        "y": {"field": "line", "type": "quantitative", "axis": null, "scale": {"domain": [-0.5563, 9.43], "reverse": true, "nice": false, "zero": false}},
        "text": {"field": "text"}
      }
    },
    {
      "width": 1015.5, "height": 368,
      "view": {"stroke": "#000000", "strokeWidth": 2.5, "strokeDash": [1015.5, 368, 1383.5], "fill": "#ffffff"},
      "data": {"values": [
        {"line": 0, "kind": "code", "text": "l_span1=8000;"},
        {"line": 1, "kind": "code", "text": "deltaTau1=1/(l_span1*2*2.63e7);"},
        {"line": 2, "kind": "prose", "text": "the interesting thing is that we use the first minima for delta Tau evaluation"},
        {"line": 3, "kind": "prose", "text": "like the case of 300m and 1500m. This could be seen not in agreement with"},
        {"line": 4, "kind": "prose", "text": "the previous cases, in fact we can note a little drift effect between the model"},
        {"line": 5, "kind": "prose", "text": "and the measure. What is particular in this measure is that, even selecting the"},
        {"line": 6, "kind": "prose", "text": "frequency where the first minima fall, we were lucky and we pick the correct"},
        {"line": 7, "kind": "prose", "text": "frequency value. The reason why we were lucky will explained at the end of"},
        {"line": 8, "kind": "prose", "text": "this tabs."},
        {"line": 9, "kind": "prose", "text": "deltaTau1=2.3764e-12"}
      ]},
      "layer": [
        {"transform": [{"filter": "datum.kind === 'code'"}],
         "mark": {"type": "text", "font": "Liberation Mono", "fontSize": 31.5, "align": "left", "baseline": "middle", "color": "#000000"},
         "encoding": {
           "x": {"value": 14.25},
           "y": {"field": "line", "type": "quantitative", "axis": null, "scale": {"domain": [-0.5563, 9.43], "reverse": true, "nice": false, "zero": false}},
           "text": {"field": "text"}}},
        {"transform": [{"filter": "datum.kind === 'prose'"}],
         "mark": {"type": "text", "font": "Liberation Serif", "fontSize": 31.5, "align": "left", "baseline": "middle", "color": "#000000"},
         "encoding": {
           "x": {"value": 14.25},
           "y": {"field": "line", "type": "quantitative"},
           "text": {"field": "text"}}}
      ]
    },
    {
      "width": 188, "height": 553,
      "view": {"stroke": "#000000", "strokeWidth": 2.5, "fill": "#ffffff"},
      "data": {"values": [{"line": 0, "text": "9500m"}]},
      "mark": {"type": "text", "font": "Liberation Serif", "fontSize": 31.5, "fontWeight": "bold", "align": "left", "baseline": "middle", "color": "#000000"},
      "encoding": {
        "x": {"value": 15.25},
        "y": {"field": "line", "type": "quantitative", "axis": null, "scale": {"domain": [-0.5563, 14.45], "reverse": true, "nice": false, "zero": false}},
        "text": {"field": "text"}
      }
    },
    {
      "width": 1015.5, "height": 553,
      "view": {"stroke": null},
      "layer": [
        {"data": {"values": [{}]}, "mark": {"type": "rect", "color": "#f0f0f0"},
         "encoding": {
           "x": {"datum": -1.3664, "type": "quantitative", "axis": null, "scale": {"domain": [-1.6047, 15.3788], "nice": false, "zero": false}},
           "x2": {"datum": 15.2911},
           "y": {"datum": -61.696, "type": "quantitative", "axis": null, "scale": {"domain": [-61.696, 25.528], "nice": false, "zero": false}},
           "y2": {"datum": 25.528}}},
        {"data": {"values": [{}]}, "mark": {"type": "rect", "color": "#ffffff"},
         "encoding": {"x": {"datum": 0, "type": "quantitative"}, "x2": {"datum": 15}, "y": {"datum": -50, "type": "quantitative"}, "y2": {"datum": 20}}},
        {"data": {"name": "xticks"}, "transform": [{"filter": "datum.v > 0 && datum.v < 15"}],
         "mark": {"type": "rule", "color": "#dedede", "strokeWidth": 1},
         "encoding": {"x": {"field": "v", "type": "quantitative"}, "y": {"datum": -50, "type": "quantitative"}, "y2": {"datum": 20}}},
        {"data": {"name": "yticks9500"}, "transform": [{"filter": "datum.v > -50 && datum.v < 20"}],
         "mark": {"type": "rule", "color": "#dedede", "strokeWidth": 1},
         "encoding": {"y": {"field": "v", "type": "quantitative"}, "x": {"datum": 0, "type": "quantitative"}, "x2": {"datum": 15}}},
        {"data": {"name": "run9500"}, "mark": {"type": "line", "strokeWidth": 0.9, "strokeOpacity": 0.85},
         "encoding": {
           "x": {"field": "f", "type": "quantitative"},
           "y": {"field": "model", "type": "quantitative"},
           "color": {"datum": "model", "type": "nominal",
             "scale": {"domain": ["model", "measure"], "range": ["#0072BD", "#D95319"]},
             "legend": {"orient": "none", "legendX": 847.25, "legendY": 46.25, "title": null, "direction": "vertical",
               "symbolType": "stroke", "symbolSize": 784, "symbolStrokeWidth": 1, "symbolOpacity": 0.85,
               "labelFont": "DejaVu Sans", "labelFontSize": 22, "labelColor": "#000000", "labelOffset": 4,
               "padding": 3, "rowPadding": 4, "strokeColor": "#555555", "fillColor": "#ffffff", "cornerRadius": 0}}}},
        {"data": {"name": "run9500"}, "mark": {"type": "line", "strokeWidth": 0.9, "strokeOpacity": 0.85},
         "encoding": {
           "x": {"field": "f", "type": "quantitative"},
           "y": {"field": "measure", "type": "quantitative"},
           "color": {"datum": "measure", "type": "nominal"}}},
        {"data": {"values": [{}]}, "mark": {"type": "rect", "fillOpacity": 0, "stroke": "#8f8f8f", "strokeWidth": 1},
         "encoding": {"x": {"datum": 0, "type": "quantitative"}, "x2": {"datum": 15}, "y": {"datum": -50, "type": "quantitative"}, "y2": {"datum": 20}}},
        {"data": {"name": "xticks"}, "mark": {"type": "rule", "color": "#8f8f8f", "strokeWidth": 1},
         "encoding": {"x": {"field": "v", "type": "quantitative"}, "y": {"datum": -50, "type": "quantitative"}, "y2": {"datum": -48.74}}},
        {"data": {"name": "xticks"}, "mark": {"type": "rule", "color": "#8f8f8f", "strokeWidth": 1},
         "encoding": {"x": {"field": "v", "type": "quantitative"}, "y": {"datum": 20, "type": "quantitative"}, "y2": {"datum": 18.74}}},
        {"data": {"name": "yticks9500"}, "mark": {"type": "rule", "color": "#8f8f8f", "strokeWidth": 1},
         "encoding": {"y": {"field": "v", "type": "quantitative"}, "x": {"datum": 0, "type": "quantitative"}, "x2": {"datum": 0.134}}},
        {"data": {"name": "yticks9500"}, "mark": {"type": "rule", "color": "#8f8f8f", "strokeWidth": 1},
         "encoding": {"y": {"field": "v", "type": "quantitative"}, "x": {"datum": 15, "type": "quantitative"}, "x2": {"datum": 14.866}}},
        {"data": {"name": "xticks"}, "mark": {"type": "text", "font": "DejaVu Sans", "fontSize": 22, "color": "#262626", "baseline": "middle", "dy": 25},
         "encoding": {"x": {"field": "v", "type": "quantitative"}, "y": {"datum": -50, "type": "quantitative"}, "text": {"field": "v", "type": "nominal"}}},
        {"data": {"name": "yticks9500"}, "mark": {"type": "text", "font": "DejaVu Sans", "fontSize": 22, "color": "#262626", "align": "right", "baseline": "middle", "dx": -9},
         "encoding": {"x": {"datum": 0, "type": "quantitative"}, "y": {"field": "v", "type": "quantitative"}, "text": {"field": "v", "type": "nominal"}}},
        {"data": {"values": [{"t": "9500 m case"}]}, "mark": {"type": "text", "font": "DejaVu Sans", "fontSize": 23, "fontWeight": "bold", "color": "#000000", "baseline": "middle", "dy": -20},
         "encoding": {"x": {"datum": 7.5, "type": "quantitative"}, "y": {"datum": 20, "type": "quantitative"}, "text": {"field": "t"}}},
        {"data": {"values": [{"t": "Frequency (Hz)"}]}, "mark": {"type": "text", "font": "DejaVu Sans", "fontSize": 24, "color": "#262626", "baseline": "middle", "dy": 59},
         "encoding": {"x": {"datum": 7.5, "type": "quantitative"}, "y": {"datum": -50, "type": "quantitative"}, "text": {"field": "t"}}},
        {"data": {"values": [{"t": "Power (dBm)"}]}, "mark": {"type": "text", "font": "DejaVu Sans", "fontSize": 24, "color": "#262626", "baseline": "middle", "angle": 270},
         "encoding": {"x": {"datum": -1.082, "type": "quantitative"}, "y": {"datum": -15, "type": "quantitative"}, "text": {"field": "t"}}},
        {"data": {"values": [{"t": "×10"}]}, "mark": {"type": "text", "font": "DejaVu Sans", "fontSize": 22, "color": "#262626", "align": "right", "baseline": "middle", "dx": -10, "dy": 58},
         "encoding": {"x": {"datum": 15, "type": "quantitative"}, "y": {"datum": -50, "type": "quantitative"}, "text": {"field": "t"}}},
        {"data": {"values": [{"t": "8"}]}, "mark": {"type": "text", "font": "DejaVu Sans", "fontSize": 17, "color": "#262626", "align": "left", "baseline": "middle", "dx": -9.5, "dy": 50},
         "encoding": {"x": {"datum": 15, "type": "quantitative"}, "y": {"datum": -50, "type": "quantitative"}, "text": {"field": "t"}}},
        {"data": {"values": [{}]}, "mark": {"type": "rule", "color": "#000000", "strokeWidth": 2.5},
         "encoding": {"x": {"datum": -1.6047, "type": "quantitative"}, "x2": {"datum": 15.3788}, "y": {"datum": 25.528, "type": "quantitative"}}}
      ]
    },
    {
      "width": 188, "height": 214,
      "view": {"stroke": "#000000", "strokeWidth": 2.5, "strokeDash": [402, 188, 214, 0], "fill": "#ffffff"},
      "data": {"values": [{"line": 0, "text": "Delta τ"}]},
      "mark": {"type": "text", "font": "Liberation Serif", "fontSize": 31.5, "align": "left", "baseline": "middle", "color": "#000000"},
      "encoding": {
        "x": {"value": 15.25},
        "y": {"field": "line", "type": "quantitative", "axis": null, "scale": {"domain": [-0.5424, 5.4103], "reverse": true, "nice": false, "zero": false}},
        "text": {"field": "text"}
      }
    },
    {
      "width": 1015.5, "height": 214,
      "view": {"stroke": "#000000", "strokeWidth": 2.5, "strokeDash": [1015.5, 1443.5], "fill": "#ffffff"},
      "data": {"values": [
        {"line": 0, "kind": "code", "text": "l_span1=9500;"},
        {"line": 1, "kind": "code", "text": "deltaTau1=37/(l_span1*2*8.1e8)"},
        {"line": 3, "kind": "prose", "text": "in this case we pick the 19ᵗʰ minima in order to have a precise evaluation of"},
        {"line": 4, "kind": "prose", "text": "delta Tau"},
        {"line": 5, "kind": "prose", "text": "deltaTau1=2.4042e-12"}
      ]},
      "layer": [
        {"transform": [{"filter": "datum.kind === 'code'"}],
         "mark": {"type": "text", "font": "Liberation Mono", "fontSize": 31.5, "align": "left", "baseline": "middle", "color": "#000000"},
         "encoding": {
           "x": {"value": 14.25},
           "y": {"field": "line", "type": "quantitative", "axis": null, "scale": {"domain": [-0.5424, 5.4103], "reverse": true, "nice": false, "zero": false}},
           "text": {"field": "text"}}},
        {"transform": [{"filter": "datum.kind === 'prose'"}],
         "mark": {"type": "text", "font": "Liberation Serif", "fontSize": 31.5, "align": "left", "baseline": "middle", "color": "#000000"},
         "encoding": {
           "x": {"value": 14.25},
           "y": {"field": "line", "type": "quantitative"},
           "text": {"field": "text"}}}
      ]
    }
  ]
}
